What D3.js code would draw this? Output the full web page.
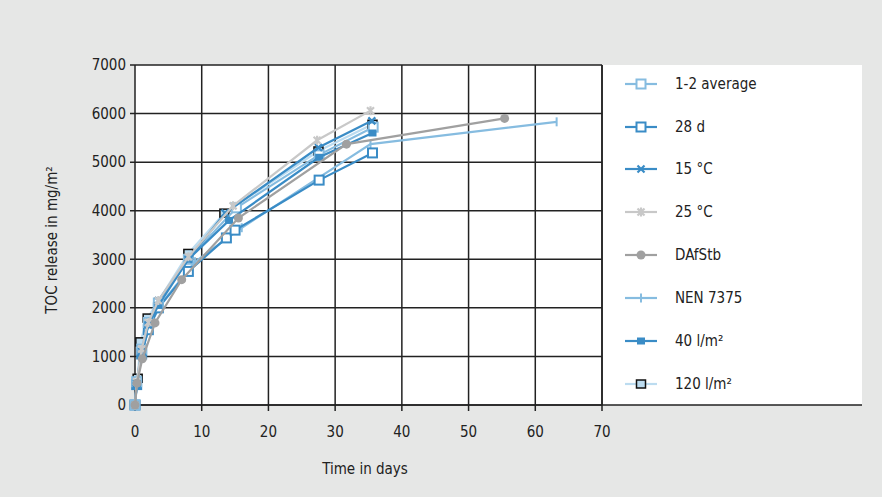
<!DOCTYPE html>
<html>
<head>
<meta charset="utf-8">
<script src="https://cdn.jsdelivr.net/npm/d3@7"></script>
<style>
  body { margin: 0; background: #e6e7e6; }
  svg { display: block; font-family: "Liberation Sans Narrow", "DejaVu Sans Condensed", "Roboto", sans-serif; }
</style>
</head>
<body>
<div id="chart"></div>
<script>
// series names, in legend order
let seriesNames = ["1-2 average", "28 d", "15 °C", "25 °C", "DAfStb", "NEN 7375", "40 l/m²", "120 l/m²"];

// [days, TOC mg/m²]
let avg12 = [[0,0],[0.25,480],[1,1150],[2,1700],[3.5,2100],[8,3000],[15.2,4060],[27.6,5150],[35.7,5720]];
let d28 = [[0,0],[0.25,420],[1,1050],[2,1550],[3.5,2000],[8,2750],[13.7,3440],[15,3600],[27.6,4630],[35.6,5190]];
let t15 = [[0,0],[0.25,450],[1,1100],[2,1650],[3.5,2150],[8,3000],[13.5,3950],[27.5,5300],[35.5,5850]];
let t25 = [[0,0],[0.25,480],[1,1150],[2,1700],[3.5,2150],[8,3050],[14.7,4100],[27.3,5450],[35.3,6060]];
let dafstb = [[0,0],[0.3,450],[1.1,950],[3,1690],[7,2580],[15.5,3850],[31.7,5370],[55.4,5900]];
let nen7375 = [[0,0],[0.25,420],[1,1100],[2.25,1650],[4,2100],[9,2950],[16,3650],[35.3,5370],[63.2,5830]];
let l40 = [[0,0],[0.25,400],[1,1050],[2,1650],[3.5,2050],[8,3000],[14.1,3800],[27.6,5100],[35.6,5600]];
let l120 = [[0,0],[0.4,550],[0.8,1300],[1.9,1790],[8,3120],[13.4,3950],[27.5,5230],[35.6,5780]];

let xTicks = [0, 10, 20, 30, 40, 50, 60, 70];
let yTicks = [0, 1000, 2000, 3000, 4000, 5000, 6000, 7000];

let allData = [avg12, d28, t15, t25, dafstb, nen7375, l40, l120];
// drawing order (back to front)
let drawOrder = [7, 5, 1, 0, 6, 2, 3, 4];

let styles = [
    {color: "#86bce0", marker: "sqOpen"},
    {color: "#3a8cc6", marker: "sqOpen"},
    {color: "#3a8cc6", marker: "cross"},
    {color: "#c8c8c8", marker: "star"},
    {color: "#a0a0a0", marker: "circle"},
    {color: "#86bce0", marker: "plus"},
    {color: "#3a8cc6", marker: "sqFill"},
    {color: "#bcdcf0", marker: "sqBlack"}
];

let W = 882, H = 497;
let margin = {top: 65, left: 135};
let plotW = 467, plotH = 340;

let svg = d3.select("#chart").append("svg")
    .attr("width", W)
    .attr("height", H);

svg.append("rect").attr("width", W).attr("height", H).attr("fill", "#e6e7e6");
// white panel (plot + legend)
svg.append("rect")
    .attr("x", margin.left).attr("y", margin.top)
    .attr("width", 862 - margin.left).attr("height", plotH)
    .attr("fill", "#fff");

let x = d3.scaleLinear().domain([0, 70]).range([margin.left, margin.left + plotW]);
let y = d3.scaleLinear().domain([0, 7000]).range([margin.top + plotH, margin.top]);

// grid
svg.append("g")
    .selectAll("line")
    .data(yTicks)
    .enter().append("line")
    .attr("x1", margin.left - 5).attr("x2", x(70))
    .attr("y1", d => y(d)).attr("y2", d => y(d))
    .attr("stroke", "#222").attr("stroke-width", 1.5);

svg.append("g")
    .selectAll("line")
    .data(xTicks)
    .enter().append("line")
    .attr("x1", d => x(d)).attr("x2", d => x(d))
    .attr("y1", y(7000)).attr("y2", y(0) + 6)
    .attr("stroke", "#222").attr("stroke-width", 1.5);

// axis line extends under legend
svg.append("line")
    .attr("x1", margin.left).attr("x2", 862)
    .attr("y1", y(0)).attr("y2", y(0))
    .attr("stroke", "#222").attr("stroke-width", 1.5);

svg.append("g")
    .attr("font-size", 15)
    .attr("fill", "#222")
    .selectAll("text")
    .data(yTicks)
    .enter().append("text")
    .attr("x", margin.left - 9)
    .attr("y", d => y(d))
    .attr("dy", "0.35em")
    .attr("text-anchor", "end")
    .text(d => d);

svg.append("g")
    .attr("font-size", 15)
    .attr("fill", "#222")
    .selectAll("text")
    .data(xTicks)
    .enter().append("text")
    .attr("x", d => x(d))
    .attr("y", 437)
    .attr("text-anchor", "middle")
    .text(d => d);

svg.append("text")
    .attr("x", 365).attr("y", 474)
    .attr("text-anchor", "middle")
    .attr("font-size", 15)
    .attr("fill", "#222")
    .text("Time in days");

svg.append("text")
    .attr("transform", "translate(57,240) rotate(-90)")
    .attr("text-anchor", "middle")
    .attr("font-size", 15)
    .attr("fill", "#222")
    .text("TOC release in mg/m²");

function drawMarker(g, st, cx, cy) {
    let c = st.color;
    if (st.marker === "sqOpen") {
        g.append("rect").attr("x", cx - 4.5).attr("y", cy - 4.5).attr("width", 9).attr("height", 9)
            .attr("fill", "#fff").attr("stroke", c).attr("stroke-width", 2);
    } else if (st.marker === "sqFill") {
        g.append("rect").attr("x", cx - 4).attr("y", cy - 3.5).attr("width", 8).attr("height", 7)
            .attr("fill", c);
    } else if (st.marker === "sqBlack") {
        g.append("rect").attr("x", cx - 4.5).attr("y", cy - 4).attr("width", 9).attr("height", 8)
            .attr("fill", c).attr("stroke", "#111").attr("stroke-width", 1.5);
    } else if (st.marker === "circle") {
        g.append("circle").attr("cx", cx).attr("cy", cy).attr("r", 4.5).attr("fill", c);
    } else if (st.marker === "cross") {
        g.append("path").attr("d", "M" + (cx - 3.5) + "," + (cy - 3.5) + "L" + (cx + 3.5) + "," + (cy + 3.5) +
            "M" + (cx - 3.5) + "," + (cy + 3.5) + "L" + (cx + 3.5) + "," + (cy - 3.5))
            .attr("stroke", c).attr("stroke-width", 2.2);
    } else if (st.marker === "plus") {
        g.append("path").attr("d", "M" + cx + "," + (cy - 4.5) + "L" + cx + "," + (cy + 4.5))
            .attr("stroke", c).attr("stroke-width", 2);
    } else if (st.marker === "star") {
        g.append("path").attr("d", "M" + (cx - 3.5) + "," + (cy - 3.5) + "L" + (cx + 3.5) + "," + (cy + 3.5) +
            "M" + (cx - 3.5) + "," + (cy + 3.5) + "L" + (cx + 3.5) + "," + (cy - 3.5) +
            "M" + cx + "," + (cy - 4.5) + "L" + cx + "," + (cy + 4.5))
            .attr("stroke", c).attr("stroke-width", 2.2);
    }
}

let line = d3.line().x(d => x(d[0])).y(d => y(d[1]));

let plot = svg.append("g");
drawOrder.forEach(function(i) {
    let ds = allData[i];
    let g = plot.append("g");
    g.append("path")
        .datum(ds)
        .attr("d", line)
        .attr("fill", "none")
        .attr("stroke", styles[i].color)
        .attr("stroke-width", 2.2);
    ds.forEach(function(d) {
        drawMarker(g, styles[i], x(d[0]), y(d[1]));
    });
});

// legend
svg.append("line")
    .attr("x1", x(70)).attr("x2", x(70))
    .attr("y1", margin.top).attr("y2", y(0))
    .attr("stroke", "#222").attr("stroke-width", 1.5);

let legendY = [84, 127, 169, 212, 255, 298, 341, 384];
let legend = svg.append("g")
    .selectAll("g")
    .data(seriesNames)
    .enter().append("g")
    .attr("transform", (d, i) => "translate(0," + legendY[i] + ")");

legend.each(function(d, i) {
    let g = d3.select(this);
    g.append("line")
        .attr("x1", 625).attr("x2", 657)
        .attr("y1", 0).attr("y2", 0)
        .attr("stroke", styles[i].color)
        .attr("stroke-width", 2.2);
    drawMarker(g, styles[i], 641, 0);
    g.append("text")
        .attr("x", 675)
        .attr("y", 0)
        .attr("dy", "0.35em")
        .attr("font-size", 15)
        .attr("fill", "#222")
        .text(d);
});
</script>
</body>
</html>
